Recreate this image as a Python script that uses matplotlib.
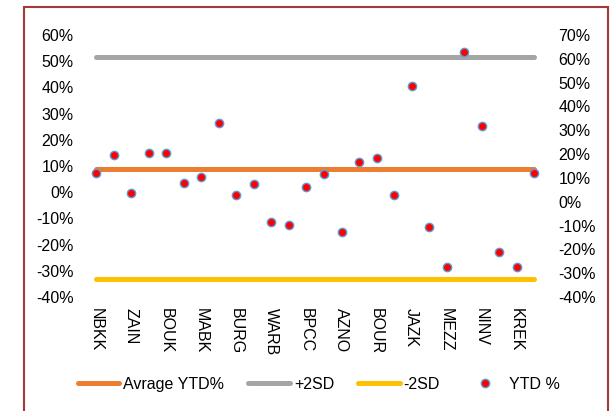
import matplotlib.pyplot as plt
import matplotlib.patches as patches
from matplotlib.ticker import FuncFormatter
from matplotlib.lines import Line2D
import numpy as np

plt.rcParams['font.family'] = ['Liberation Sans', 'DejaVu Sans']

# every other category is labelled on the axis
labels = ["NBKK", "ZAIN", "BOUK", "MABK", "BURG", "WARB", "BPCC",
          "AZNO", "BOUR", "JAZK", "MEZZ", "NINV", "KREK"]
ytd = [11.9, 19.6, 3.5, 20.3, 20.3, 7.7, 10.5, 32.9, 2.8, 7.3, -8.4, -9.8, 6.3,
       11.5, -12.6, 16.8, 18.2, 2.8, 48.6, -10.5, -27.3, 62.7, 31.8, -21.0, -27.3, 11.9]
avg_ytd = 8.7
plus_2sd = 51.5
minus_2sd = -33.2

n = len(ytd)
x = np.arange(n)

fig = plt.figure(figsize=(6.16, 4.11), dpi=100)
ax1 = fig.add_axes([0.142, 0.2774, 0.7395, 0.6374])
ax2 = ax1.twinx()

lw = 3.6
ax1.plot([x[0], x[-1]], [avg_ytd, avg_ytd], color='#ED7D31', lw=lw, solid_capstyle='round')
ax1.plot([x[0], x[-1]], [plus_2sd, plus_2sd], color='#A5A5A5', lw=lw, solid_capstyle='round')
ax1.plot([x[0], x[-1]], [minus_2sd, minus_2sd], color='#FFC000', lw=lw, solid_capstyle='round')
ax2.plot(x, ytd, linestyle='none', marker='o', markersize=6,
         markerfacecolor='#FF0000', markeredgecolor='#5B9BD5', markeredgewidth=1.0, zorder=5)

ax1.set_xlim(-0.5, n - 0.5)
ax1.set_ylim(-40, 60)
ax2.set_ylim(-40, 70)
ax1.set_yticks(np.arange(-40, 61, 10))
ax2.set_yticks(np.arange(-40, 71, 10))
pct = FuncFormatter(lambda v, p: "%d%%" % round(v))
ax1.yaxis.set_major_formatter(pct)
ax2.yaxis.set_major_formatter(pct)
ax1.set_xticks(x[::2])
ax1.set_xticklabels(labels, rotation=270, fontsize=11.5)

ax1.tick_params(axis='y', length=0, pad=10, labelsize=11.5)
ax2.tick_params(axis='y', length=0, pad=11, labelsize=11.5)
ax1.tick_params(axis='x', length=0, pad=8)
for a in (ax1, ax2):
    for s in a.spines.values():
        s.set_visible(False)

handles = [
    Line2D([], [], color='#ED7D31', lw=lw, solid_capstyle='round'),
    Line2D([], [], color='#A5A5A5', lw=lw, solid_capstyle='round'),
    Line2D([], [], color='#FFC000', lw=lw, solid_capstyle='round'),
    Line2D([], [], linestyle='none', marker='o', markersize=6,
           markerfacecolor='#FF0000', markeredgecolor='#5B9BD5', markeredgewidth=1.0),
]
fig.legend(handles, ["Avrage YTD%", "+2SD", "-2SD", "YTD %"], ncol=4,
           loc='center', bbox_to_anchor=(319 / 616, 1 - 384 / 411), frameon=False,
           fontsize=11.5, handlelength=2.6, handletextpad=0.25, columnspacing=1.5)

fig.patches.append(patches.Rectangle((24 / 616, -0.05), 584 / 616, 1.05 - 7 / 411,
                                     transform=fig.transFigure, fill=False,
                                     edgecolor='#A33A3A', lw=1.5))

fig.savefig('out.png', dpi=100)
